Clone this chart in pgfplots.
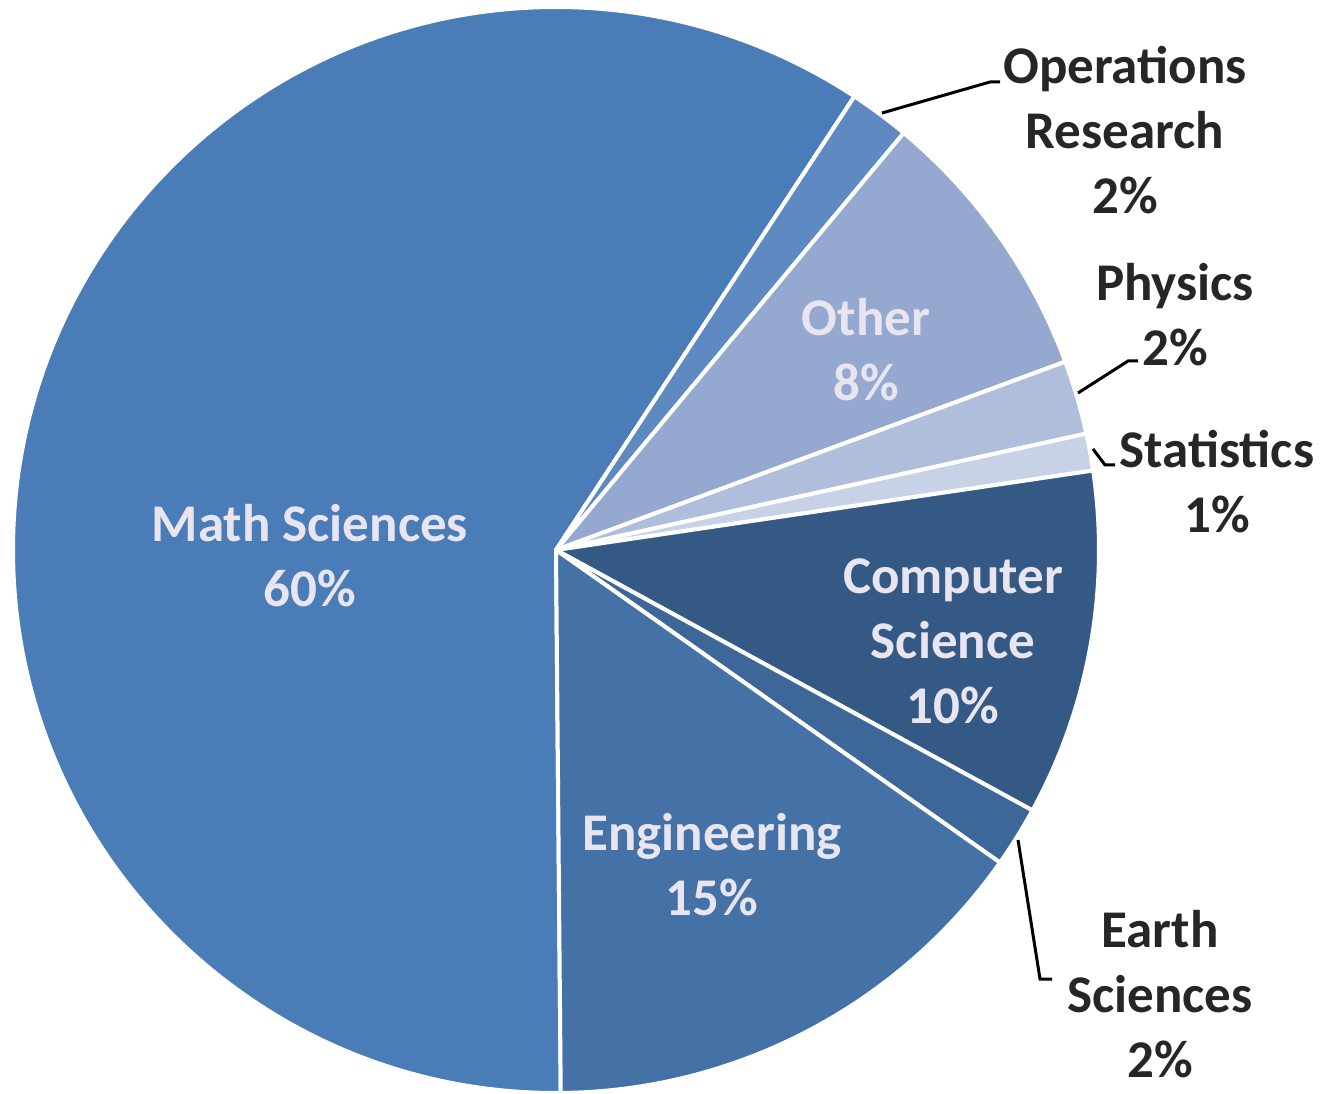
\documentclass[border=0pt]{standalone}
\usepackage{pgfplots}
\usepackage{pgfplotstable}
\pgfplotsset{compat=1.18}
\usepackage{fontspec}
\setmainfont{Carlito}

\definecolor{pc0}{HTML}{4A7DB7}
\definecolor{pc1}{HTML}{5E89C1}
\definecolor{pc2}{HTML}{94A8D0}
\definecolor{pc3}{HTML}{AFBEDA}
\definecolor{pc4}{HTML}{C8D2E6}
\definecolor{pc5}{HTML}{355985}
\definecolor{pc6}{HTML}{3D6699}
\definecolor{pc7}{HTML}{4471A6}
\definecolor{intxt}{HTML}{E8E4F0}
\definecolor{outtxt}{HTML}{262626}

\tikzset{lbl/.style={font=\bfseries\fontsize{26.5}{32.5}\selectfont, align=center, inner sep=0pt}}

\pgfplotstableread{
idx pct
0 59.4
1 1.8
2 8.3
3 2.2
4 1.1
5 10.3
6 1.8
7 15.1
}\piedata

\begin{document}
\begin{tikzpicture}
\xdef\cur{270.5}
\foreach \i in {0,...,7} {
  \pgfplotstablegetelem{\i}{pct}\of\piedata
  \pgfmathsetmacro\e{\cur-3.6*\pgfplotsretval}
  \expandafter\xdef\csname sa\i\endcsname{\cur}
  \expandafter\xdef\csname ea\i\endcsname{\e}
  \xdef\cur{\e}
}
\begin{axis}[
  x=0.5pt, y=0.5pt,
  xmin=0, xmax=1325, ymin=0, ymax=1093,
  hide axis, clip=false,
]
\pgfplotsinvokeforeach{0,...,7}{
  \edef\cmd{\noexpand\fill[pc#1, draw=white, line width=2pt, line join=round]
    (axis cs:556,543) -- ++(\csname sa#1\endcsname:271.5pt)
    arc[start angle=\csname sa#1\endcsname, end angle=\csname ea#1\endcsname, radius=271.5pt] -- cycle;}
  \cmd
}
% leader lines
\draw[black, line width=1.5pt] (axis cs:882,980) -- (axis cs:990,1011) -- (axis cs:1000,1011);
\draw[black, line width=1.5pt] (axis cs:1078,700) -- (axis cs:1128,732) -- (axis cs:1138,732);
\draw[black, line width=1.5pt] (axis cs:1093,644) -- (axis cs:1105,628) -- (axis cs:1115,628);
\draw[black, line width=1.5pt] (axis cs:1018,253) -- (axis cs:1040,114) -- (axis cs:1052,114);
% labels
\node[lbl, text=intxt] at (axis cs:310,537) {Math Sciences\\60\%};
\node[lbl, text=intxt] at (axis cs:866,743) {Other\\8\%};
\node[lbl, text=intxt] at (axis cs:953,452) {Computer\\Science\\10\%};
\node[lbl, text=intxt] at (axis cs:712,228) {Engineering\\15\%};
\node[lbl, text=outtxt] at (axis cs:1125,963) {Operations\\Research\\2\%};
\node[lbl, text=outtxt] at (axis cs:1175,778) {Physics\\2\%};
\node[lbl, text=outtxt] at (axis cs:1217,611) {Statistics\\1\%};
\node[lbl, text=outtxt] at (axis cs:1160,99) {Earth\\Sciences\\2\%};
\end{axis}
\pgfresetboundingbox
\path (0,0) rectangle (662.5pt,546.5pt);
\end{tikzpicture}
\end{document}
